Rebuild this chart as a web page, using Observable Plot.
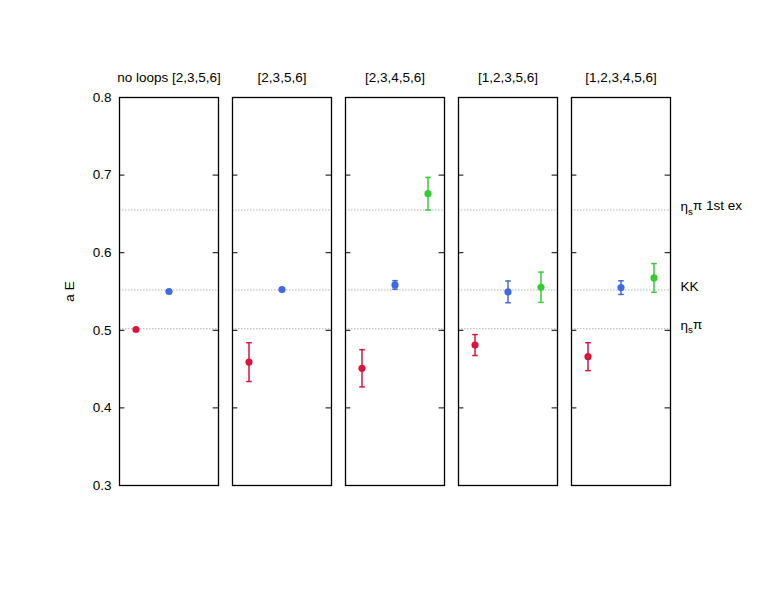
<!DOCTYPE html>
<html>
<head>
<meta charset="utf-8">
<script src="https://cdn.jsdelivr.net/npm/d3@7"></script>
<script src="https://cdn.jsdelivr.net/npm/@observablehq/plot@0.6"></script>
<style>
  body { margin: 0; background: #fff; }
  #chart svg { display: block; }
</style>
</head>
<body>
<div id="chart"></div>
<script>
// ---- data ----
const panels = ["no loops [2,3,5,6]", "[2,3,5,6]", "[2,3,4,5,6]", "[1,2,3,5,6]", "[1,2,3,4,5,6]"];
const levels = ["level 0", "level 1", "level 2"];
const levelColors = ["#dc143c", "#4169e1", "#32cd32"];

const level0Values = [0.501, 0.459, 0.451, 0.481, 0.466];
const level0Errors = [0.001, 0.025, 0.024, 0.0135, 0.018];
const level1Values = [0.550, 0.5525, 0.5585, 0.5495, 0.555];
const level1Errors = [0.001, 0.002, 0.0055, 0.014, 0.0088];
const level2Values = [null, null, 0.676, 0.5555, 0.5675];
const level2Errors = [null, null, 0.021, 0.0195, 0.0185];

const refValues = [0.502, 0.552, 0.655];
const refLabels = ["η_sπ", "KK", "η_sπ 1st ex"];

const yTicks = [0.3, 0.4, 0.5, 0.6, 0.7, 0.8];

// ---- table ----
const seriesValues = [level0Values, level1Values, level2Values];
const seriesErrors = [level0Errors, level1Errors, level2Errors];
const points = [];
panels.forEach((p, i) => {
  levels.forEach((lv, j) => {
    const v = seriesValues[j][i];
    if (v != null) points.push({panel: p, level: lv, pos: j + 1, value: v, err: seriesErrors[j][i]});
  });
});
const refs = refValues.map((v, i) => ({value: v, label: refLabels[i], panel: panels[panels.length - 1]}));

// ---- layout ----
const W = 763, H = 590;
const mL = 117, mR = 91, mT = 97, mB = 105;
const padInner = 0.125;
const step = (W - mL - mR) / (panels.length - padInner);
const bandW = step * (1 - padInner);
const tickLen = 6;
const font = "'Liberation Sans', Arial, Helvetica, sans-serif";
const fs = 13.5;

const capSymbol = {
  draw(ctx, size) {
    const w = Math.sqrt(size / Math.PI);
    ctx.moveTo(-w, 0);
    ctx.lineTo(w, 0);
  }
};

const chart = Plot.plot({
  width: W,
  height: H,
  marginLeft: mL,
  marginRight: mR,
  marginTop: mT,
  marginBottom: mB,
  style: {fontFamily: font, fontSize: fs + "px", color: "black", background: "white"},
  fx: {domain: panels, paddingInner: padInner, paddingOuter: 0, axis: null},
  x: {domain: [0.5, 3.5], axis: null},
  y: {domain: [0.3, 0.8], axis: null},
  color: {domain: levels, range: levelColors},
  marks: [
    Plot.ruleY(refs, {y: "value", stroke: "#b4b4b4", strokeWidth: 1, strokeDasharray: "1.5,1.5"}),
    Plot.tickY(yTicks, {y: d => d, stroke: "black", strokeWidth: 1, insetRight: bandW - tickLen}),
    Plot.tickY(yTicks, {y: d => d, stroke: "black", strokeWidth: 1, insetLeft: bandW - tickLen}),
    Plot.frame({stroke: "black", strokeWidth: 1.3}),
    Plot.ruleX(points, {fx: "panel", x: "pos", y1: d => d.value - d.err, y2: d => d.value + d.err, stroke: "level", strokeWidth: 1.5}),
    Plot.dot(points, {fx: "panel", x: "pos", y: d => d.value - d.err, symbol: capSymbol, r: 2.8, stroke: "level", fill: "none", strokeWidth: 1.5}),
    Plot.dot(points, {fx: "panel", x: "pos", y: d => d.value + d.err, symbol: capSymbol, r: 2.8, stroke: "level", fill: "none", strokeWidth: 1.5}),
    Plot.dot(points, {fx: "panel", x: "pos", y: "value", fill: "level", r: 3.6}),
    Plot.text(panels, {fx: d => d, text: d => d, frameAnchor: "top", lineAnchor: "middle", dy: -20, fontSize: fs, fill: "black"}),
    Plot.text(refs, {fx: "panel", y: "value", text: "label", frameAnchor: "right", textAnchor: "start", lineAnchor: "middle", dx: 10, dy: -3, fontSize: fs, fill: "black"}),
    Plot.axisY({anchor: "left", ticks: yTicks, tickSize: 0, tickPadding: 8, tickFormat: d3.format(".1f"), fontSize: fs,
      label: "a E", labelAnchor: "center", labelArrow: "none", labelOffset: 55})
  ]
});

// subscripts
d3.select(chart).selectAll("text").each(function () {
  const t = this.textContent;
  if (t.includes("_s")) {
    const parts = t.split("_s");
    const sel = d3.select(this);
    sel.text(null);
    sel.append("tspan").text(parts[0]);
    sel.append("tspan").attr("dy", "0.35em").attr("font-size", "0.72em").text("s");
    sel.append("tspan").attr("dy", "-0.35em").text(parts[1]);
  }
});

document.getElementById("chart").appendChild(chart);
</script>
</body>
</html>
